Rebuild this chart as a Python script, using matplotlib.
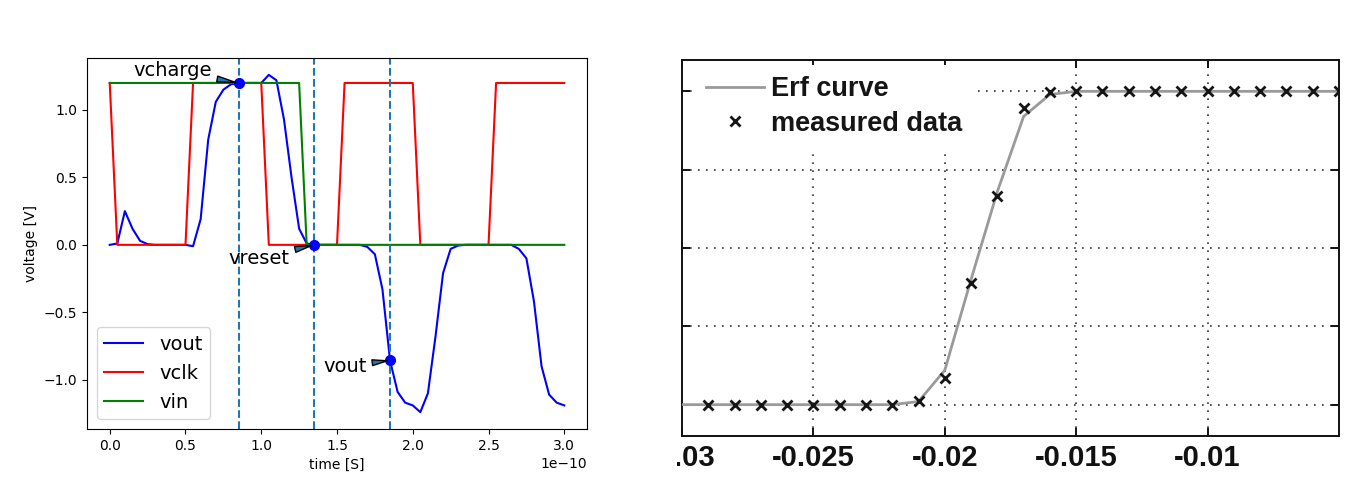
import numpy as np
import matplotlib
matplotlib.use("Agg")
import matplotlib.pyplot as plt
from matplotlib.transforms import Bbox, TransformedBbox

# left panel: simulated waveforms, sampled every 0.05e-10 s
t = np.linspace(0, 3e-10, 61)
vout = [0.0, 0.01, 0.25, 0.12, 0.03, 0.005, 0.0, 0.0, 0.0, 0.0,
        0.0, -0.01, 0.19, 0.78, 1.06, 1.15, 1.19, 1.2, 1.2, 1.2,
        1.2, 1.26, 1.22, 0.93, 0.50, 0.12, 0.01, 0.0, 0.0, 0.0,
        0.0, 0.0, 0.0, 0.0, -0.015, -0.07, -0.33, -0.857, -1.09, -1.17,
        -1.19, -1.24, -1.10, -0.68, -0.21, -0.03, -0.005, 0.0, 0.0, 0.0,
        0.0, 0.0, 0.0, 0.0, -0.03, -0.10, -0.42, -0.90, -1.11, -1.17,
        -1.19]
vclk = [1.2] + [0.0] * 10 + [1.2] * 10 + [0.0] * 10 + [1.2] * 10 + [0.0] * 10 + [1.2] * 10
vin = [1.2] * 26 + [0.0] * 35

marks = [17, 27, 37]  # sample indices of the three probe times
mark_names = ["vcharge", "vreset", "vout"]
mark_text = [(0.155e-10, 1.25), (0.785e-10, -0.14), (1.41e-10, -0.94)]

# right panel: erf fit vs measured data
erf_x = [-0.030, -0.029, -0.028, -0.027, -0.026, -0.025, -0.024, -0.023, -0.022,
         -0.021, -0.020, -0.019, -0.018, -0.017, -0.016, -0.015, -0.014, -0.013,
         -0.012, -0.011, -0.010, -0.009, -0.008, -0.007, -0.006, -0.005]
erf_y = [0.0, 0.0, 0.0, 0.0, 0.0, 0.0, 0.0, 0.0, 0.0,
         0.01, 0.11, 0.40, 0.68, 0.92, 0.99, 1.0, 1.0, 1.0,
         1.0, 1.0, 1.0, 1.0, 1.0, 1.0, 1.0, 1.0]
meas_x = erf_x[1:]
meas_y = [0.0, 0.0, 0.0, 0.0, 0.0, 0.0, 0.0, 0.0,
          0.012, 0.086, 0.387, 0.665, 0.946, 0.997, 1.0, 1.0, 1.0,
          1.0, 1.0, 1.0, 1.0, 1.0, 1.0, 1.0, 1.0]
xticks_r = [-0.03, -0.025, -0.02, -0.015, -0.01]
yticks_r = [0, 0.25, 0.5, 0.75, 1.0]

fig = plt.figure(figsize=(13.48, 4.84), dpi=100)

# ---- left
ax = fig.add_axes([87 / 1348, 55 / 484, 500 / 1348, 371 / 484])
ax.plot(t, vout, "b", label="vout")
ax.plot(t, vclk, "r", label="vclk")
ax.plot(t, vin, "g", label="vin")
for i, name, xy in zip(marks, mark_names, mark_text):
    ax.axvline(t[i], linestyle="--", color="C0")
    ax.plot(t[i], vout[i], "bo", markersize=7)
    ax.annotate(name, xy=(t[i], vout[i]), xytext=xy, fontsize=14,
                arrowprops=dict(arrowstyle="wedge"))
ax.set_xlabel("time [S]")
ax.set_ylabel("voltage [V]")
ax.legend(loc="lower left", fontsize=14)

# ---- right
tfont = {"family": ["Liberation Sans", "DejaVu Sans"], "weight": "bold", "size": 21}
lfont = dict(tfont, size=19.5)
ax2 = fig.add_axes([682 / 1348, 48 / 484, 657 / 1348, 376 / 484])
ax2.plot(erf_x, erf_y, color="#9a9a9a", lw=2, label="Erf curve", zorder=3)
ax2.plot(meas_x, meas_y, "x", color="#151515", markersize=7, mew=2,
         label="measured data", zorder=4)
ax2.set_xlim(-0.03, -0.005)
ax2.set_ylim(-0.1, 1.1)
ax2.set_xticks(xticks_r)
ax2.set_xticklabels([f"{v:g}" for v in xticks_r])
ax2.set_yticks(yticks_r)
ax2.grid(True, color="#333333", linestyle=(0, (1, 3.8)), lw=1.2)
ax2.tick_params(direction="in", length=6, width=1.4, top=True, right=True,
                labelleft=False, pad=6, colors="#111111")
for sp in ax2.spines.values():
    sp.set_linewidth(1.4)
    sp.set_color("#111111")
clip = TransformedBbox(Bbox([[677 / 1348, 0], [1, 1]]), fig.transFigure)
for lab in ax2.get_xticklabels():
    lab.set_fontproperties(tfont)
    lab.set_clip_box(clip)
    lab.set_clip_on(True)
leg = ax2.legend(loc="upper left", prop=lfont, frameon=True, framealpha=1,
                 facecolor="white", edgecolor="none", fancybox=False,
                 handletextpad=0.25, labelspacing=0.32, handlelength=2.15,
                 borderaxespad=0.2, bbox_to_anchor=(8 / 657, 1))
for txt in leg.get_texts():
    txt.set_color("#151515")

fig.savefig("out.png", dpi=100)
